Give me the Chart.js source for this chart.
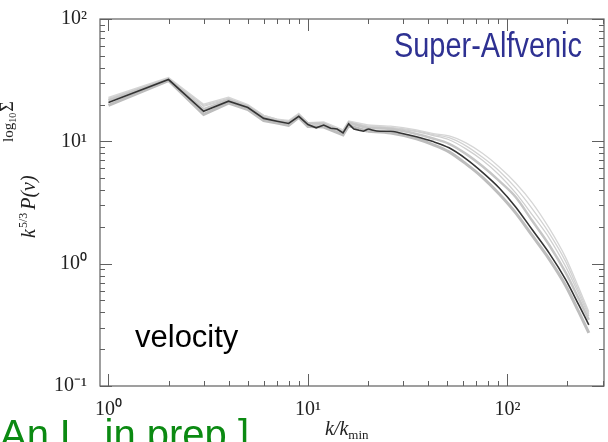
<!DOCTYPE html>
<html><head><meta charset="utf-8">
<script src="https://cdn.jsdelivr.net/npm/chart.js@4/dist/chart.umd.min.js"></script>
<style>html,body{margin:0;padding:0;background:#fff}#wrap{position:relative;width:608px;height:442px}</style>
</head><body><div id="wrap"><canvas id="c" width="608" height="442"></canvas></div>
<script>
// k/k_min values
const kBlack = [1,2,3,4,5,6,7,8,9,10,11,12,13,14,15,16,17,18,19,20,23,26,29,35,42,51,62,75,91,110,133,162,196,228,256];
const pBlack = [20.8,32,17.6,21.3,18.9,15.4,14.6,14.0,16.0,13.7,12.9,13.6,12.8,12.6,11.7,13.9,12.6,12.3,12.1,12.6,12.1,12.1,11.7,10.9,10.0,8.85,7.19,5.58,4.16,2.91,1.90,1.22,0.74,0.46,0.316];
const kGray = [1,2,3,4,5,6,7,8,9,10,12,15,16,20,26,35,42,51,62,75,91,110,133,162,196,228,256];
const pGray1 = [19.7,31.4,16.6,20.5,18.2,14.8,14.1,13.5,15.7,13.2,13.1,11.3,13.4,12.1,11.7,10.5,9.45,8.20,6.54,5.08,3.71,2.60,1.70,1.09,0.661,0.403,0.272];
const pGray2 = [21.6,32.0,18.3,21.7,19.3,15.7,14.6,14.3,16.3,14.0,13.9,11.9,14.2,12.8,12.6,11.5,10.6,9.54,7.90,6.25,4.75,3.51,2.25,1.42,0.844,0.515,0.347];
const pGray3 = [22.0,32.6,19.3,22.1,19.6,16.0,14.9,14.3,16.6,14.0,14.1,11.9,14.4,13.1,12.8,12.0,11.2,10.3,8.68,7.00,5.31,3.79,2.52,1.62,0.945,0.566,0.374];
const pGray4 = [22.4,32.6,19.7,22.5,19.6,16.3,15.2,14.5,16.6,14.2,14.1,12.1,14.4,13.3,13.0,12.2,11.4,10.7,9.18,7.40,5.73,4.16,2.82,1.78,1.04,0.599,0.389];
const pGray5 = [22.9,33.2,20.1,23.0,20.0,16.3,15.2,14.8,16.9,14.2,14.4,12.4,14.7,13.6,13.3,12.4,11.6,11.1,9.72,7.98,6.18,4.57,3.16,1.95,1.12,0.634,0.404];
const kSmoothFrom = 20; // jagged (straight) segments below, smooth roll-off above
const xRange = [0.907, 305];
const yRange = [0.1, 100];
const supDigits = {'-':'\u207B','0':'\u2070','1':'\u00B9','2':'\u00B2','3':'\u00B3'};

const isPow10 = v => Math.abs(Math.log10(v) - Math.round(Math.log10(v))) < 1e-6;
const powLabel = v => {
  if (!isPow10(v)) return '';
  const e = String(Math.round(Math.log10(v)));
  return '10' + e.split('').map(c => supDigits[c]).join('');
};

// each series -> two datasets sharing the k = kSmoothFrom point
function seriesSets(ks, vs, color, width, order) {
  const pts = ks.map((k, i) => ({x: k, y: vs[i]}));
  const lo = pts.filter(p => p.x <= kSmoothFrom);
  const hi = pts.filter(p => p.x >= kSmoothFrom);
  const base = {borderColor: color, borderWidth: width, order, pointRadius: 0, fill: false};
  return [
    Object.assign({data: lo, tension: 0}, base),
    Object.assign({data: hi, cubicInterpolationMode: 'monotone'}, base)
  ];
}

const frame = {
  id: 'frame',
  afterDraw(chart) {
    const {ctx, chartArea: a, scales: {x, y}} = chart;
    ctx.save();
    ctx.strokeStyle = '#606060';
    ctx.lineWidth = 1.2;
    ctx.strokeRect(a.left, a.top, a.right - a.left, a.bottom - a.top);
    const vals = s => {
      const out = [];
      for (let e = Math.floor(Math.log10(s.min)); e <= Math.ceil(Math.log10(s.max)); e++) {
        for (let m = 1; m < 10; m++) {
          const v = m * Math.pow(10, e);
          if (v >= s.min * 0.9999 && v <= s.max * 1.0001) out.push([v, m === 1]);
        }
      }
      return out;
    };
    ctx.lineWidth = 1;
    ctx.beginPath();
    for (const [v, maj] of vals(x)) {
      const px = Math.round(x.getPixelForValue(v)) + 0.5, L = maj ? 12 : 5;
      ctx.moveTo(px, a.bottom); ctx.lineTo(px, a.bottom - L);
      ctx.moveTo(px, a.top); ctx.lineTo(px, a.top + L);
    }
    for (const [v, maj] of vals(y)) {
      const py = Math.round(y.getPixelForValue(v)) + 0.5, L = maj ? 12 : 5;
      ctx.moveTo(a.left, py); ctx.lineTo(a.left + L, py);
      ctx.moveTo(a.right, py); ctx.lineTo(a.right - L, py);
    }
    ctx.stroke();

    // annotations
    ctx.textBaseline = 'alphabetic';
    ctx.textAlign = 'left';
    ctx.save();
    ctx.fillStyle = '#2e3192';
    ctx.font = '35px "Liberation Sans", Arial, sans-serif';
    ctx.translate(394, 57);
    ctx.scale(188 / ctx.measureText('Super-Alfvenic').width, 1);
    ctx.fillText('Super-Alfvenic', 0, 0);
    ctx.restore();

    ctx.fillStyle = '#000';
    ctx.font = '31px "Liberation Sans", Arial, sans-serif';
    ctx.fillText('velocity', 135, 347);

    ctx.fillStyle = '#0b8a12';
    ctx.font = '40px "Liberation Sans", Arial, sans-serif';
    ctx.fillText('An L. in prep.]', 0, 448);

    // x title k/k_min
    ctx.fillStyle = '#222';
    let cx = 325;
    ctx.font = 'italic 20px "Liberation Serif", serif';
    ctx.fillText('k/k', cx, 435);
    cx += ctx.measureText('k/k').width;
    ctx.font = '13px "Liberation Serif", serif';
    ctx.fillText('min', cx, 439);

    // y title k^{5/3} P(v)
    ctx.save();
    ctx.translate(35, 238);
    ctx.rotate(-Math.PI / 2);
    let tx = 0;
    ctx.font = 'italic 20px "Liberation Serif", serif';
    ctx.fillText('k', tx, 0); tx += ctx.measureText('k').width + 1;
    ctx.font = '12px "Liberation Serif", serif';
    ctx.fillText('5/3', tx, -8); tx += ctx.measureText('5/3').width + 3;
    ctx.font = 'italic 20px "Liberation Serif", serif';
    ctx.fillText('P(v)', tx, 0);
    ctx.restore();

    // partial label log10 Sigma at left edge
    ctx.save();
    ctx.translate(13, 142);
    ctx.rotate(-Math.PI / 2);
    ctx.font = '15px "Liberation Serif", serif';
    let lx = 0;
    ctx.fillText('log', lx, 0); lx += ctx.measureText('log').width;
    ctx.font = '10px "Liberation Serif", serif';
    ctx.fillText('10', lx, 3); lx += ctx.measureText('10').width + 1;
    ctx.font = '18px "Liberation Serif", serif';
    ctx.fillText('\u03A3', lx, 0);
    ctx.restore();

    ctx.restore();
  }
};

new Chart(document.getElementById('c'), {
  type: 'line',
  data: {
    datasets: [
      ...seriesSets(kBlack, pBlack, '#333333', 1.6, 0),
      ...seriesSets(kGray, pGray1, '#bdbdbd', 3, 2),
      ...seriesSets(kGray, pGray2, '#c6c6c6', 2.5, 2),
      ...seriesSets(kGray, pGray3, '#cfcfcf', 1.3, 2),
      ...seriesSets(kGray, pGray4, '#d2d2d2', 1.3, 2),
      ...seriesSets(kGray, pGray5, '#d6d6d6', 1.3, 2)
    ]
  },
  options: {
    responsive: false,
    animation: false,
    devicePixelRatio: 1,
    layout: {padding: {top: 19, right: 3, left: 0, bottom: 0}},
    plugins: {legend: {display: false}, tooltip: {enabled: false}},
    scales: {
      x: {
        type: 'logarithmic', min: xRange[0], max: xRange[1],
        grid: {display: false}, border: {display: false},
        afterFit: s => { s.height = 56; },
        ticks: {autoSkip: false, maxRotation: 0, padding: 4, color: '#222',
          font: {family: '"Liberation Serif", serif', size: 20},
          callback: v => powLabel(v)}
      },
      y: {
        type: 'logarithmic', min: yRange[0], max: yRange[1],
        grid: {display: false}, border: {display: false},
        afterFit: s => { s.width = 100; },
        ticks: {autoSkip: false, padding: 5, color: '#222',
          font: {family: '"Liberation Serif", serif', size: 20},
          callback: v => powLabel(v)}
      }
    }
  },
  plugins: [frame]
});
</script></body></html>
